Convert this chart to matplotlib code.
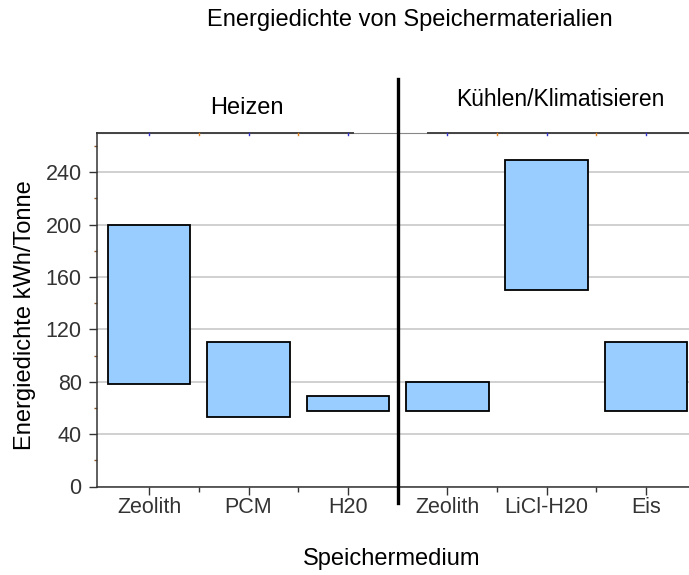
import matplotlib
matplotlib.use("Agg")
import matplotlib.pyplot as plt
import matplotlib.transforms as mtransforms
from matplotlib.ticker import MultipleLocator, FixedLocator

categories = ["Zeolith", "PCM", "H20", "Zeolith", "LiCl-H20", "Eis"]
low_values = [78, 53, 58, 58, 150, 58]
high_values = [200, 110, 69, 80, 249, 110]
group_labels = ["Heizen", "Kühlen/Klimatisieren"]
y_ticks = [0, 40, 80, 120, 160, 200, 240]

plt.rcParams['font.family'] = ['Liberation Sans', 'DejaVu Sans']

W, H = 689, 575
fig = plt.figure(figsize=(W / 100, H / 100), dpi=100)
fig.patch.set_facecolor('white')
ax = fig.add_axes([97 / W, (H - 486.5) / H, (695.7 - 97) / W, (486.5 - 133) / H])

x = list(range(len(categories)))
heights = [h - l for h, l in zip(high_values, low_values)]
ax.bar(x, heights, bottom=low_values, width=0.83, color='#99ccff',
       edgecolor='black', linewidth=1.3, zorder=3)

ax.set_xlim(-0.525, 5.5)
ax.set_ylim(0, 270)
ax.set_xticks(x)
ax.set_xticklabels(categories, fontsize=15.5, color='#333333')
ax.xaxis.set_minor_locator(FixedLocator([0.5, 1.5, 2.5, 3.5, 4.5]))
ax.set_yticks(y_ticks)
ax.set_yticklabels([str(v) for v in y_ticks], fontsize=15.5, color='#333333')
ax.yaxis.set_minor_locator(MultipleLocator(20))
ax.tick_params(axis='x', which='major', length=6, width=1, direction='out', pad=1.5,
               color='#333333')
ax.tick_params(axis='x', which='minor', length=3.5, width=1, direction='out',
               color='#333333')
ax.tick_params(axis='y', which='major', length=6, width=1, direction='out', pad=5,
               color='#333333')
ax.tick_params(axis='y', which='minor', length=2, width=1, direction='out',
               color='#8a5a2a')
ax.grid(axis='y', color='#c8c8c8', linewidth=1.2, zorder=0)
ax.set_axisbelow(True)

for s in ['top', 'right']:
    ax.spines[s].set_visible(False)
ax.spines['left'].set_color('#333333')
ax.spines['bottom'].set_color('#333333')
ax.spines['left'].set_linewidth(1.1)
ax.spines['bottom'].set_linewidth(1.1)

# top axis line: thin grey across, thicker segments with a gap around divider
tr = mtransforms.blended_transform_factory(ax.transData, ax.transAxes)
ax.plot([-0.525, 5.5], [1, 1], color='#888888', lw=0.8, transform=tr, clip_on=False)
ax.plot([-0.525, 2.05], [1, 1], color='#444444', lw=1.4, transform=tr, clip_on=False)
ax.plot([2.81, 5.5], [1, 1], color='#444444', lw=1.4, transform=tr, clip_on=False)

# small coloured top ticks
for xi in x:
    ax.plot([xi, xi], [1, 0.994], color='#3333cc', lw=1, transform=tr, clip_on=False)
for xi in [0.5, 1.5, 3.5, 4.5]:
    ax.plot([xi, xi], [1, 0.994], color='#e08020', lw=1, transform=tr, clip_on=False)

# vertical divider
trf = mtransforms.blended_transform_factory(ax.transData, fig.transFigure)
ax.plot([2.5, 2.5], [1 - 79 / H, 1 - 503 / H], color='black', lw=2.4,
        transform=trf, clip_on=False, zorder=5)

fig.text(25 / W, 1 - 315 / H, "Energiedichte kWh/Tonne", fontsize=17, rotation=90,
         ha='center', va='center')
fig.text(392 / W, 1 - 559 / H, "Speichermedium", fontsize=17, ha='center', va='center')
fig.text(410 / W, 1 - 20 / H, "Energiedichte von Speichermaterialien", fontsize=17,
         ha='center', va='center')
fig.text(247 / W, 1 - 108 / H, group_labels[0], fontsize=17, ha='center', va='center')
fig.text(560 / W, 1 - 99 / H, group_labels[1], fontsize=16.5, ha='center', va='center')

fig.savefig("out.png", dpi=100, facecolor='white')
